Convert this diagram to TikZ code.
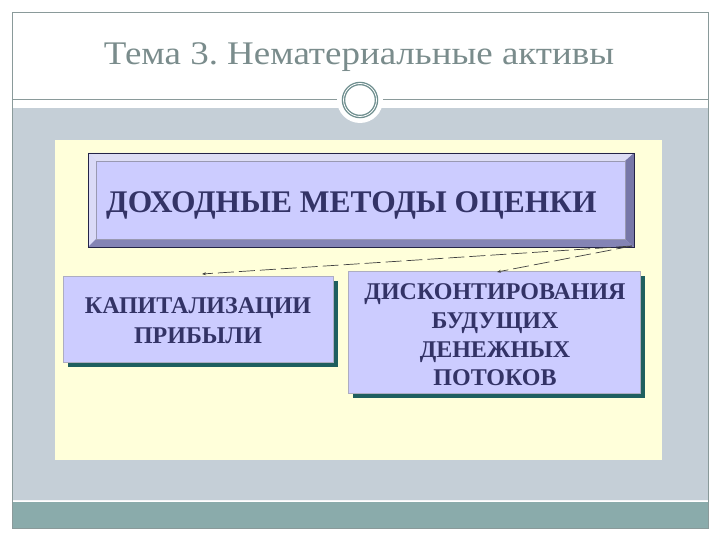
\documentclass[tikz,border=0pt]{standalone}
\usepackage{fontspec}
\setmainfont{Liberation Serif}
\usetikzlibrary{arrows.meta}
\frenchspacing
\definecolor{band}{HTML}{C5CFD7}
\definecolor{strip}{HTML}{8AABAB}
\definecolor{frameln}{HTML}{8A9A9A}
\definecolor{titlec}{HTML}{7A8C8C}
\definecolor{panel}{HTML}{FFFFDA}
\definecolor{boxfill}{HTML}{CCCCFF}
\definecolor{boxtext}{HTML}{333366}
\definecolor{shadowc}{HTML}{1F5F5F}
\definecolor{bevlight}{HTML}{DDDDF5}
\definecolor{bevdark}{HTML}{7777A8}
\definecolor{ringc}{HTML}{6F8F8F}
\tikzset{
  boxtxt/.style={text=boxtext,font=\bfseries\fontsize{24}{29}\selectfont,align=center,inner sep=0pt},
  conn/.style={draw=black!75,line width=0.7pt,dash pattern=on 16pt off 5pt,-{Stealth[length=4pt,width=3pt]}}
}
\begin{document}
\begin{tikzpicture}[x=1pt,y=-1pt]
\useasboundingbox (0,0) rectangle (720,540);
\fill[white] (0,0) rectangle (720,540);
% band and strip
\fill[band] (12,108) rectangle (708,500);
\fill[strip] (12,502) rectangle (708,528);
\draw[white!80!band,line width=1pt] (12,500.5) -- (708,500.5);
\draw[frameln,line width=0.8pt] (12,12) rectangle (708,528);
% header line and ornament
\draw[frameln,line width=1pt] (12,100) -- (708,100);
\fill[white] (360,100) circle (23);
\draw[ringc,line width=3.5pt] (360,100) circle (16.5);
\draw[white,line width=0.8pt] (360,100) circle (16.5);
% title
\node[text=titlec,font=\fontsize{33}{36}\selectfont,anchor=base,xscale=1.12,inner sep=0pt] (title) at (359,65) {Тема 3. Нематериальные активы};
% panel
\fill[panel] (55,140) rectangle (662,460);
% top box with bevel
\fill[boxfill] (88,153) rectangle (634,247);
\fill[bevlight] (88,153) -- (634,153) -- (625,161) -- (96,161) -- cycle;
\fill[bevlight!80!boxfill] (88,153) -- (96,161) -- (96,239) -- (88,247) -- cycle;
\fill[bevdark] (634,153) -- (634,247) -- (625,239) -- (625,161) -- cycle;
\fill[bevdark!85!boxfill] (88,247) -- (634,247) -- (625,239) -- (96,239) -- cycle;
\draw[boxtext!70!black,line width=0.8pt] (88,153) rectangle (634,247);
\draw[boxtext!50,line width=0.4pt] (96,161) rectangle (625,239);
\node[boxtxt,font=\bfseries\fontsize{31.5}{36}\selectfont,anchor=base west] (top) at (106,213) {ДОХОДНЫЕ МЕТОДЫ ОЦЕНКИ};
\coordinate (corner) at (632,246);
% left box
\fill[shadowc] (68,281) rectangle (338,367);
\draw[fill=boxfill,draw=boxtext!40] (63,276) rectangle (333,362);
\node[boxtxt,font=\bfseries\fontsize{24}{30}\selectfont] (left) at (198,321) {КАПИТАЛИЗАЦИИ\\ПРИБЫЛИ};
\coordinate (lefttop) at (202,274);
% right box
\fill[shadowc] (353,276) rectangle (645,398);
\draw[fill=boxfill,draw=boxtext!40] (348,271) rectangle (640,393);
\node[boxtxt,font=\bfseries\fontsize{24}{28.7}\selectfont] (right) at (495,335) {ДИСКОНТИРОВАНИЯ\\БУДУЩИХ\\ДЕНЕЖНЫХ\\ПОТОКОВ};
\coordinate (righttop) at (497,272);
% connectors
\draw[conn] (corner) -- (lefttop);
\draw[conn] (corner) -- (righttop);
\end{tikzpicture}
\end{document}
